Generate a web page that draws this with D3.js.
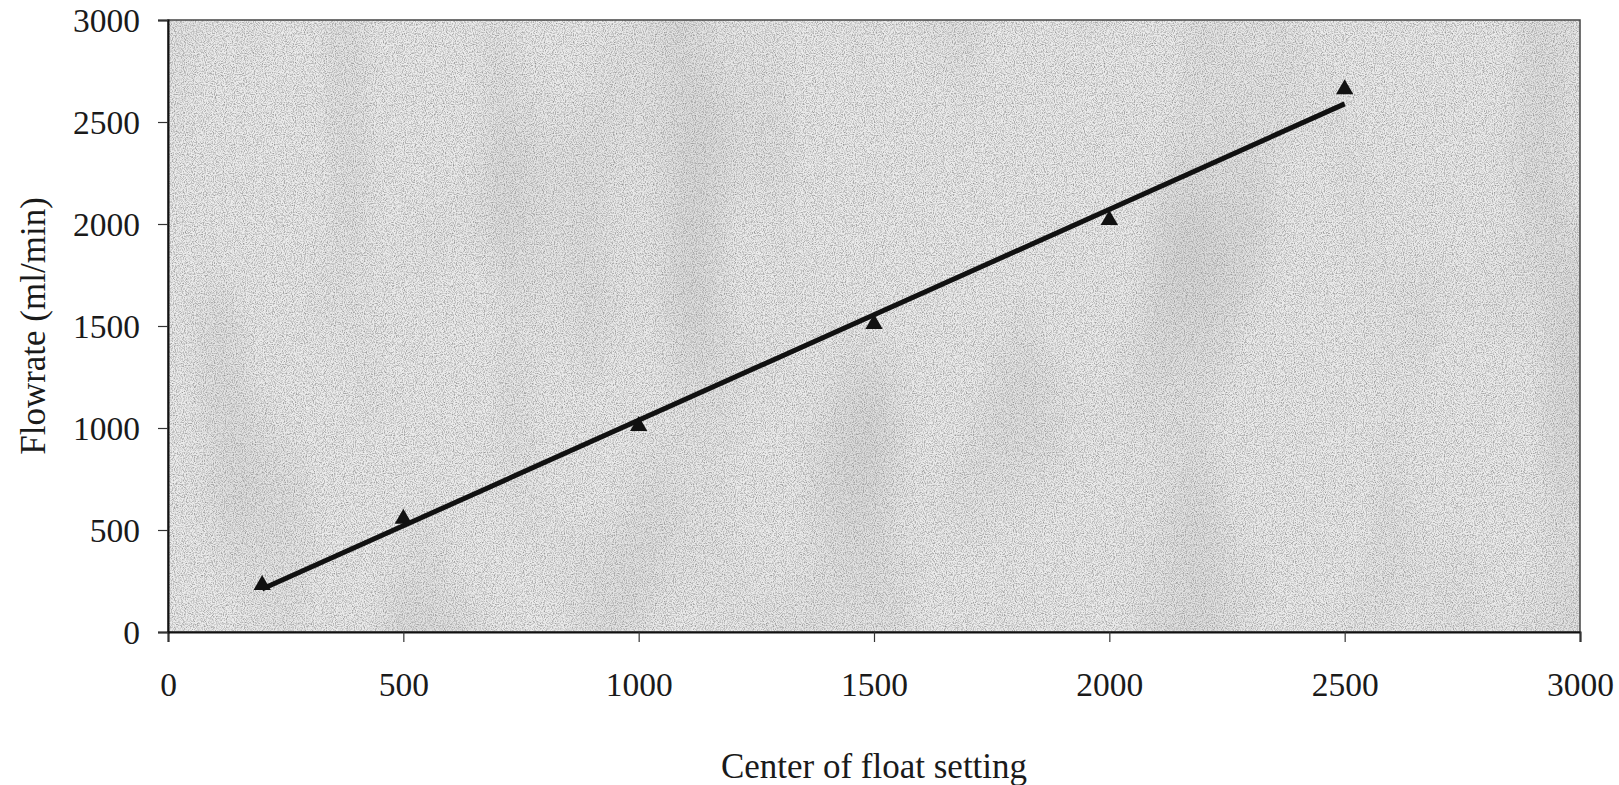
<!DOCTYPE html>
<html>
<head>
<meta charset="utf-8">
<script src="https://cdn.jsdelivr.net/npm/d3@7"></script>
<style>
  html, body { margin: 0; padding: 0; background: #ffffff; }
  svg { display: block; }
  text { font-family: "Liberation Serif", "Times New Roman", serif; fill: #1a1a1a; }
</style>
</head>
<body>
<svg id="chart" width="1619" height="785"></svg>
<script>
// ---- data ----
const floatSetting = [200, 500, 1000, 1500, 2000, 2500];
const flowrate     = [230, 555, 1010, 1510, 2020, 2660];
const xTicks = [0, 500, 1000, 1500, 2000, 2500, 3000];
const yTicks = [0, 500, 1000, 1500, 2000, 2500, 3000];
const xTitle = "Center of float setting";
const yTitle = "Flowrate (ml/min)";

// ---- layout ----
const svg = d3.select("#chart");
const m = { left: 168, right: 1580, top: 20, bottom: 632 };

const x = d3.scaleLinear().domain([0, 3000]).range([m.left, m.right]);
const y = d3.scaleLinear().domain([0, 3000]).range([m.bottom, m.top]);

// ---- defs: textured background ----
const defs = svg.append("defs");
const f = defs.append("filter").attr("id", "grain")
  .attr("x", 0).attr("y", 0).attr("width", 1).attr("height", 1);
f.append("feTurbulence").attr("type", "fractalNoise")
  .attr("baseFrequency", "0.9").attr("numOctaves", 2).attr("seed", 3).attr("result", "n");
f.append("feColorMatrix").attr("in", "n").attr("type", "matrix")
  .attr("values", "0 0 0 0 0.3  0 0 0 0 0.3  0 0 0 0 0.3  -2.2 0 0 0 1.3")
  .attr("result", "g");
f.append("feComposite").attr("in", "g").attr("in2", "SourceGraphic").attr("operator", "in");

const f2 = defs.append("filter").attr("id", "bands")
  .attr("x", 0).attr("y", 0).attr("width", 1).attr("height", 1);
f2.append("feTurbulence").attr("type", "fractalNoise")
  .attr("baseFrequency", "0.008 0.003").attr("numOctaves", 2).attr("seed", 7).attr("result", "n");
f2.append("feColorMatrix").attr("in", "n").attr("type", "matrix")
  .attr("values", "0 0 0 0 0.55  0 0 0 0 0.55  0 0 0 0 0.55  -1.3 0 0 0 0.7")
  .attr("result", "g");
f2.append("feComposite").attr("in", "g").attr("in2", "SourceGraphic").attr("operator", "in");

// ---- plot area ----
const plotRect = () => svg.append("rect")
  .attr("x", m.left).attr("y", m.top)
  .attr("width", m.right - m.left).attr("height", m.bottom - m.top);
plotRect().attr("fill", "#ececec");
plotRect().attr("fill", "#fff").attr("filter", "url(#bands)");
plotRect().attr("fill", "#fff").attr("filter", "url(#grain)");
plotRect().attr("fill", "none").attr("stroke", "#444").attr("stroke-width", 1.5);

// ---- axes ----
const xAxis = d3.axisBottom(x).tickValues(xTicks).tickSize(10).tickPadding(30).tickFormat(d3.format("d"));
const yAxis = d3.axisLeft(y).tickValues(yTicks).tickSize(10).tickPadding(18).tickFormat(d3.format("d"));

const gx = svg.append("g").attr("transform", `translate(0,${m.bottom})`).call(xAxis);
const gy = svg.append("g").attr("transform", `translate(${m.left},0)`).call(yAxis);
[gx, gy].forEach(g => {
  g.select(".domain").attr("stroke", "#111").attr("stroke-width", 2);
  g.selectAll(".tick line").attr("stroke", "#333").attr("stroke-width", 1.2);
  g.selectAll(".tick text").attr("font-size", 33.5)
    .attr("font-family", "Liberation Serif, Times New Roman, serif").attr("fill", "#1a1a1a");
});
gx.selectAll(".tick text").attr("dy", "0.71em");
gy.selectAll(".tick text").attr("dy", "0.35em");

// ---- titles ----
svg.append("text")
  .attr("x", (m.left + m.right) / 2).attr("y", 778)
  .attr("text-anchor", "middle").attr("font-size", 35)
  .text(xTitle);
svg.append("text")
  .attr("transform", `translate(45,${(m.top + m.bottom) / 2}) rotate(-90)`)
  .attr("text-anchor", "middle").attr("font-size", 35)
  .text(yTitle);

// ---- linear trend line (least squares from the data) ----
const mx = d3.mean(floatSetting), my = d3.mean(flowrate);
const slope = d3.sum(floatSetting, (d, i) => (d - mx) * (flowrate[i] - my)) /
              d3.sum(floatSetting, d => (d - mx) * (d - mx));
const intercept = my - slope * mx;
const ext = d3.extent(floatSetting);
const fit = ext.map(v => [v, intercept + slope * v]);

svg.append("path")
  .datum(fit)
  .attr("d", d3.line().x(d => x(d[0])).y(d => y(d[1])))
  .attr("stroke", "#111").attr("stroke-width", 5).attr("fill", "none")
  .attr("stroke-linecap", "butt");

// ---- markers ----
const tri = d3.symbol().type(d3.symbolTriangle).size(130);
svg.append("g").selectAll("path")
  .data(floatSetting.map((v, i) => [v, flowrate[i]]))
  .join("path")
  .attr("d", tri)
  .attr("transform", d => `translate(${x(d[0])},${y(d[1])})`)
  .attr("fill", "#111");
</script>
</body>
</html>
